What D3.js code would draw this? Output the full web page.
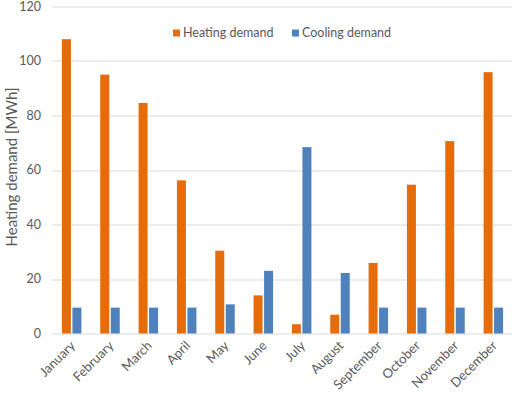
<!DOCTYPE html>
<html>
<head>
<meta charset="utf-8">
<script src="https://cdn.jsdelivr.net/npm/d3@7"></script>
<style>
  body { margin: 0; background: #fff; }
  text { font-family: Lato, "Open Sans", sans-serif; fill: #595959; }
</style>
</head>
<body>
<div id="chart"></div>
<script>
let months = ["January", "February", "March", "April", "May", "June", "July",
    "August", "September", "October", "November", "December"];
let heating = [108, 95, 84.6, 56.2, 30.4, 14.0, 3.4, 6.9, 25.9, 54.6, 70.6, 95.9];
let cooling = [9.5, 9.5, 9.5, 9.5, 10.7, 23.0, 68.4, 22.2, 9.5, 9.5, 9.5, 9.5];
let yTicks = [0, 20, 40, 60, 80, 100, 120];
let seriesNames = ["Heating demand", "Cooling demand"];
let colors = ["#E46C0A", "#4F81BD"];

let margin = {top: 6.5, right: 8, bottom: 59.5, left: 52},
    width = 520 - margin.left - margin.right,
    height = 393 - margin.top - margin.bottom;

let svg = d3.select("#chart")
    .append("svg")
    .attr("width", 520)
    .attr("height", 393)
    .append("g")
    .attr("transform", "translate(" + margin.left + "," + margin.top + ")");

let x = d3.scaleBand()
    .domain(months)
    .range([0, width]);

let y = d3.scaleLinear()
    .domain([0, 120])
    .range([height, 0]);

// gridlines
svg.append("g")
    .selectAll("line")
    .data(yTicks)
    .enter()
    .append("line")
    .attr("x1", 0)
    .attr("x2", width)
    .attr("y1", d => Math.round(y(d)) + 0.5)
    .attr("y2", d => Math.round(y(d)) + 0.5)
    .style("stroke", "#D9D9D9")
    .style("stroke-width", 1);

// y tick labels
svg.append("g")
    .selectAll("text")
    .data(yTicks)
    .enter()
    .append("text")
    .attr("x", -11)
    .attr("y", d => y(d))
    .attr("dy", "0.35em")
    .attr("text-anchor", "end")
    .style("font-size", "12.5px")
    .text(d => d);

let barW = 9, barGap = 1.5;
let sub = d3.scaleOrdinal().domain([0, 1]).range([-barW - barGap / 2, barGap / 2]);

let data = months.map((m, i) => ({month: m, values: [heating[i], cooling[i]]}));

let groups = svg.append("g")
    .selectAll("g")
    .data(data)
    .enter()
    .append("g")
    .attr("transform", d => "translate(" + (x(d.month) + x.bandwidth() / 2 + 0.5) + ",0)");

groups.selectAll("rect")
    .data(d => d.values.map((v, k) => ({k: k, v: v})))
    .enter()
    .append("rect")
    .attr("x", d => sub(d.k))
    .attr("width", barW)
    .attr("y", d => y(d.v))
    .attr("height", d => height - y(d.v))
    .style("fill", d => colors[d.k]);

// x labels, rotated like Excel
svg.append("g")
    .selectAll("text")
    .data(months)
    .enter()
    .append("text")
    .attr("transform", d => "translate(" + (x(d) + x.bandwidth() / 2 - 2) + "," + (height + 6) + ") rotate(-45)")
    .attr("text-anchor", "end")
    .attr("dy", "0.75em")
    .style("font-size", "13px")
    .text(d => d);

// y axis title
svg.append("text")
    .attr("transform", "translate(" + (-35) + "," + (height / 2 - 3) + ") rotate(-90)")
    .attr("text-anchor", "middle")
    .style("font-size", "15px")
    .text("Heating demand [MWh]");

// legend
let legend = svg.append("g")
    .selectAll("g")
    .data(seriesNames)
    .enter()
    .append("g")
    .attr("transform", (d, i) => "translate(" + (121 + i * 119) + ",23)");

legend.append("rect")
    .attr("width", 7)
    .attr("height", 7)
    .attr("y", 0)
    .style("fill", (d, i) => colors[i]);

legend.append("text")
    .attr("x", 10)
    .attr("y", 3.5)
    .attr("dy", "0.35em")
    .style("font-size", "12.5px")
    .text(d => d);
</script>
</body>
</html>
